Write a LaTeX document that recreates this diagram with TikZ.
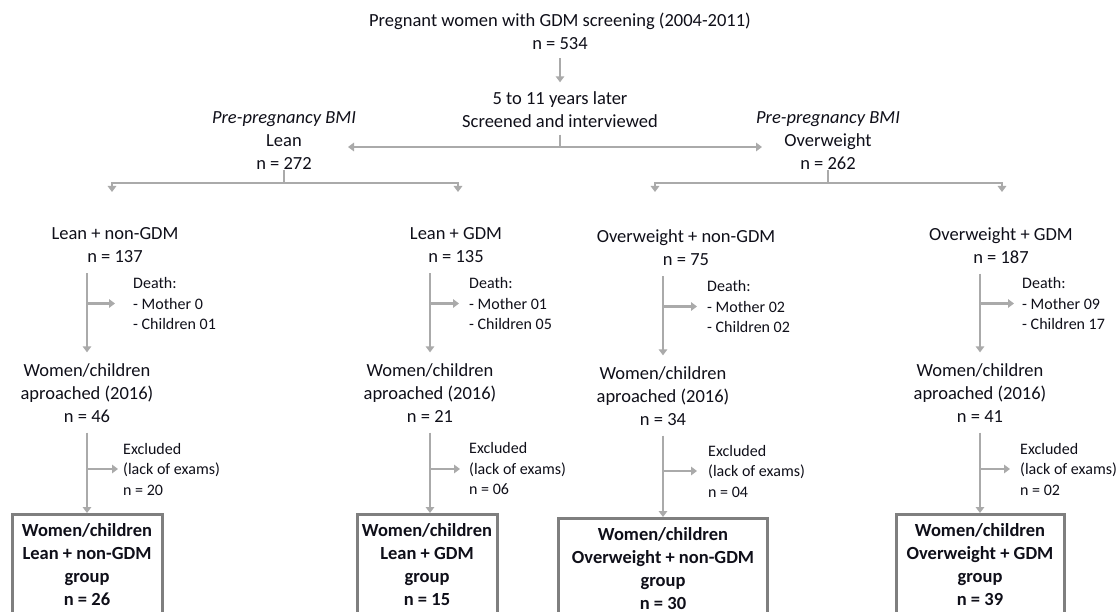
\documentclass[tikz,border=0pt]{standalone}
\usepackage{fontspec}
\setmainfont{Carlito}
\usetikzlibrary{arrows.meta}
\definecolor{lgray}{RGB}{170,170,170}
\definecolor{bgray}{RGB}{127,127,127}
\definecolor{txt}{RGB}{15,15,25}
\newcommand{\mainfnt}{\fontsize{18.5}{23}\selectfont}
\newcommand{\smallfnt}{\fontsize{16}{20.5}\selectfont}
\begin{document}
\begin{tikzpicture}[x=1pt,y=-1pt,
  every node/.style={inner sep=0pt, text=txt, align=center, font=\mainfnt},
  small/.style={font=\smallfnt, align=left, anchor=west},
  arr/.style={draw=lgray, line width=2.6pt, -{Triangle[length=6pt,width=8.5pt]}},
  ln/.style={draw=lgray, line width=2.6pt},
  grp/.style={draw=bgray, line width=3pt, font=\bfseries\mainfnt, inner xsep=4pt, inner ysep=9pt, anchor=north}
]
\useasboundingbox (0,0) rectangle (1119,612);
\clip (0,0) rectangle (1119,612);
\fill[white] (0,0) rectangle (1119,612);

% top
\node (title) at (560,31.5) {Pregnant women with GDM screening (2004-2011)\\n = 534};
\node (later) at (560,109.5) {5 to 11 years later\\Screened and interviewed};
\node (lean) at (284,141) {\textit{Pre-pregnancy BMI}\\Lean\\n = 272};
\node (over) at (828,141) {\textit{Pre-pregnancy BMI}\\Overweight\\n = 262};
\coordinate (j1) at (560,147);
\coordinate (leanIn) at (348,147);
\coordinate (overIn) at (762,147);
\draw[arr, shorten <=8pt, shorten >=9pt] (title.south) -- (later.north);
\draw[ln, shorten <=7pt] (later.south) -- (j1);
\draw[arr] (j1) -- (leanIn);
\draw[arr] (j1) -- (overIn);

% splits
\coordinate (jL) at (284,183);
\coordinate (jO) at (828,183);
\coordinate (tA) at (112,192);
\coordinate (tB) at (458,192);
\coordinate (tC) at (655,192);
\coordinate (tD) at (1002,192);
\draw[ln] (lean.south) -- (jL);
\draw[arr] (jL) -| (tA);
\draw[arr] (jL) -| (tB);
\draw[ln] (over.south) -- (jO);
\draw[arr] (jO) -| (tC);
\draw[arr] (jO) -| (tD);

% column A
\node (lnA) at (115,245.5) {Lean + non-GDM\\n = 137};
\node[small] (dA) at (133,303.5) {Death:\\- Mother 0\\- Children 01};
\node (apA) at (87,393) {Women/children\\aproached (2016)\\n = 46};
\node[small] (exA) at (123,469) {Excluded\\(lack of exams)\\n = 20};
\node[grp, minimum width=150] (gA) at (87,513) {Women/children\\Lean + non-GDM\\group\\n = 26\\ \strut};
\draw[arr, shorten <=10pt, shorten >=11pt] (apA.north |- lnA.south) -- (apA.north);
\draw[arr, shorten >=18pt] (dA.west -| apA.north) -- (dA.west);
\draw[arr, shorten <=10pt] (apA.south) -- (gA.north);
\draw[arr, shorten >=5pt] (exA.west -| apA.south) -- (exA.west);

% column B
\node (lnB) at (456,245.5) {Lean + GDM\\n = 135};
\node[small] (dB) at (469,303.5) {Death:\\- Mother 01\\- Children 05};
\node (apB) at (430,393) {Women/children\\aproached (2016)\\n = 21};
\node[small] (exB) at (469,469) {Excluded\\(lack of exams)\\n = 06};
\node[grp, minimum width=140] (gB) at (427,513) {Women/children\\Lean + GDM\\group\\n = 15\\ \strut};
\draw[arr, shorten <=10pt, shorten >=11pt] (apB.north |- lnB.south) -- (apB.north);
\draw[arr, shorten >=10pt] (dB.west -| apB.north) -- (dB.west);
\draw[arr, shorten <=10pt] (apB.south) -- (gB.north -| apB.south);
\draw[arr, shorten >=9pt] (exB.west -| apB.south) -- (exB.west);

% column C
\node (lnC) at (686,248) {Overweight + non-GDM\\n = 75};
\node[small] (dC) at (707,306.5) {Death:\\- Mother 02\\- Children 02};
\node (apC) at (663,396) {Women/children\\aproached (2016)\\n = 34};
\node[small] (exC) at (708,471) {Excluded\\(lack of exams)\\n = 04};
\node[grp, minimum width=209] (gC) at (663,517) {Women/children\\Overweight + non-GDM\\group\\n = 30\\ \strut};
\draw[arr, shorten <=10pt, shorten >=11pt] (apC.north |- lnC.south) -- (apC.north);
\draw[arr, shorten >=10pt] (dC.west -| apC.north) -- (dC.west);
\draw[arr, shorten <=10pt] (apC.south) -- (gC.north);
\draw[arr, shorten >=11pt] (exC.west -| apC.south) -- (exC.west);

% column D
\node (lnD) at (1001,245.5) {Overweight + GDM\\n = 187};
\node[small] (dD) at (1022,303.5) {Death:\\- Mother 09\\- Children 17};
\node (apD) at (980,393) {Women/children\\aproached (2016)\\n = 41};
\node[small] (exD) at (1020,469) {Excluded\\(lack of exams)\\n = 02};
\node[grp, minimum width=168] (gD) at (980,513) {Women/children\\Overweight + GDM\\group\\n = 39\\ \strut};
\draw[arr, shorten <=10pt, shorten >=11pt] (apD.north |- lnD.south) -- (apD.north);
\draw[arr, shorten >=8pt] (dD.west -| apD.north) -- (dD.west);
\draw[arr, shorten <=10pt] (apD.south) -- (gD.north);
\draw[arr, shorten >=10pt] (exD.west -| apD.south) -- (exD.west);
\end{tikzpicture}
\end{document}
